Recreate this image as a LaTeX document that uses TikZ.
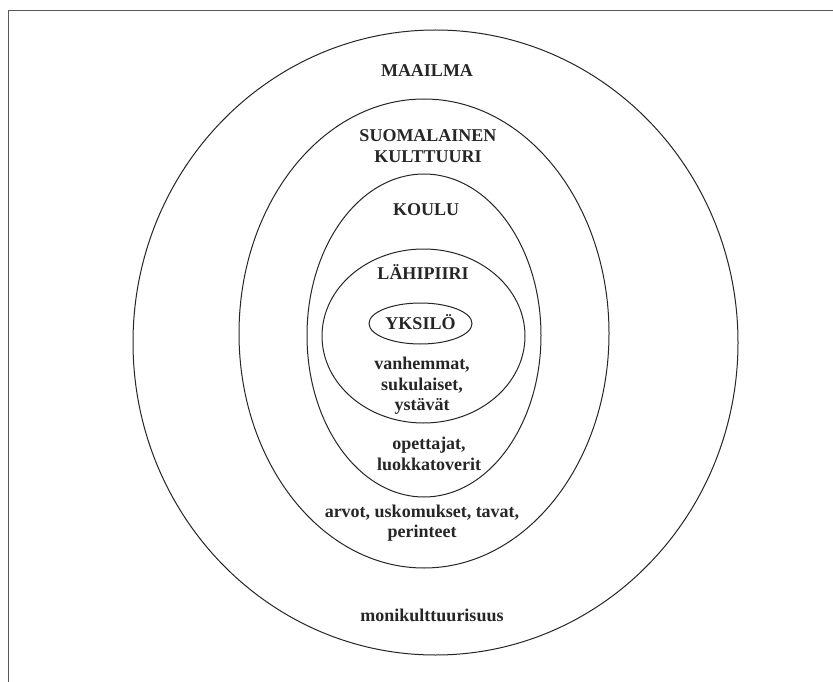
\documentclass[tikz,border=0pt]{standalone}
\usepackage{fontspec}
\setmainfont{Liberation Serif}
\usetikzlibrary{shapes.geometric}
\tikzset{
  ring/.style={draw=black!85, line width=1pt},
  lbl/.style={font=\fontsize{18}{20.5}\selectfont\bfseries, align=center, inner sep=0pt, text=black!85},
  frameline/.style={draw=black!65, line width=1.6pt}
}
\begin{document}
\begin{tikzpicture}[x=1pt,y=-1pt]
\useasboundingbox (0,0) rectangle (833,682);
\fill[white] (0,0) rectangle (833,682);
\draw[frameline] (8.5,682) -- (8.5,10.5) -- (833,10.5);
% ellipses
\draw[ring] (435.5,342.5) ellipse [x radius=302.5, y radius=312.5];
\draw[ring] (424,333.5) ellipse [x radius=185, y radius=234.5];
\draw[ring] (424,335.5) ellipse [x radius=117, y radius=161.5];
\draw[ring] (423.5,336) ellipse [x radius=101.5, y radius=87];
\node[ring, ellipse, minimum width=103pt, minimum height=41pt, inner sep=0pt] (yksilo) at (420.5,323.5) {};
% labels
\node[lbl] (maailma) at (427,71) {MAAILMA};
\node[lbl] (suomi) at (428,146) {SUOMALAINEN\\KULTTUURI};
\node[lbl] (koulu) at (426,210) {KOULU};
\node[lbl] (lahi) at (423,272) {LÄHIPIIRI};
\node[lbl] (yks) at (420.5,322.5) {YKSILÖ};
\node[lbl] (perhe) at (422,386) {vanhemmat,\\sukulaiset,\\ystävät};
\node[lbl] (opet) at (429,454) {opettajat,\\luokkatoverit};
\node[lbl] (arvot) at (422,523) {arvot, uskomukset, tavat,\\perinteet};
\node[lbl] (moni) at (432,615) {monikulttuurisuus};
\end{tikzpicture}
\end{document}
